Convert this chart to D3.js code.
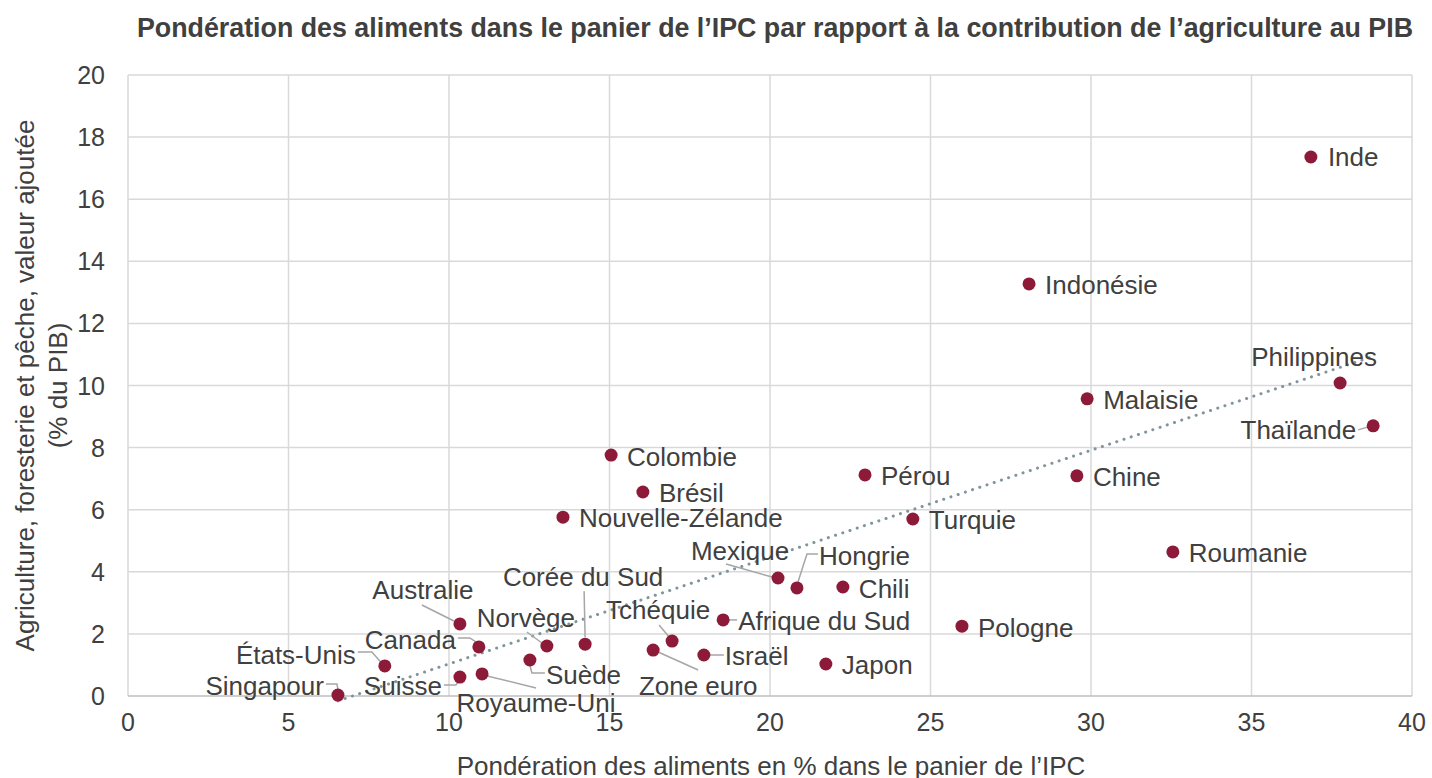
<!DOCTYPE html>
<html>
<head>
<meta charset="utf-8">
<script src="https://cdn.jsdelivr.net/npm/d3@7"></script>
<style>
  body { margin: 0; background: #fff; }
  svg text { font-family: "Liberation Sans", Arial, sans-serif; fill: #404040; }
</style>
</head>
<body>
<svg id="chart" width="1432" height="778"></svg>
<script>
// data
const countries = ["Inde", "Indonésie", "Philippines", "Thaïlande", "Malaisie", "Chine", "Roumanie",
  "Pérou", "Turquie", "Pologne", "Colombie", "Brésil", "Nouvelle-Zélande", "Mexique", "Hongrie",
  "Chili", "Afrique du Sud", "Japon", "Israël", "Tchéquie", "Zone euro", "Corée du Sud", "Norvège",
  "Suède", "Australie", "Canada", "États-Unis", "Suisse", "Royaume-Uni", "Singapour"];
const foodWeight = [36.85, 28.07, 37.76, 38.79, 29.88, 29.56, 32.55,
  22.96, 24.45, 25.98, 15.05, 16.04, 13.55, 20.25, 20.84,
  22.27, 18.54, 21.74, 17.94, 16.95, 16.36, 14.24, 13.05,
  12.52, 10.34, 10.93, 8.0, 10.34, 11.03, 6.54];
const agriShare = [17.36, 13.27, 10.08, 8.70, 9.57, 7.09, 4.64,
  7.12, 5.70, 2.25, 7.76, 6.57, 5.76, 3.80, 3.48,
  3.51, 2.45, 1.03, 1.32, 1.77, 1.48, 1.67, 1.61,
  1.16, 2.32, 1.58, 0.97, 0.61, 0.71, 0.03];
const xTicks = [0, 5, 10, 15, 20, 25, 30, 35, 40];
const yTicks = [0, 2, 4, 6, 8, 10, 12, 14, 16, 18, 20];

// label placement (pixels relative to the point): dx, dy, anchor, leader path
const labelLayout = {
  "Inde": [17, 0, "start"],
  "Indonésie": [16, 1, "start"],
  "Philippines": [-26, -26, "middle"],
  "Thaïlande": [-17, 4, "end", [[-15, 4], [-5, 1]]],
  "Malaisie": [16, 1, "start"],
  "Chine": [16, 1, "start"],
  "Roumanie": [16, 1, "start"],
  "Pérou": [16, 1, "start"],
  "Turquie": [16, 1, "start"],
  "Pologne": [16, 2, "start"],
  "Colombie": [16, 2, "start"],
  "Brésil": [16, 1, "start"],
  "Nouvelle-Zélande": [16, 1, "start"],
  "Mexique": [-38, -27, "middle", [[-52, -14], [-6, -1]]],
  "Hongrie": [22, -32, "start", [[21, -34], [10, -34], [1, -6]]],
  "Chili": [16, 2, "start"],
  "Afrique du Sud": [15, 1, "start", [[5, 0], [14, 0]]],
  "Japon": [16, 1, "start"],
  "Israël": [21, 1, "start", [[5, 0], [20, 0]]],
  "Tchéquie": [-14, -31, "middle", [[-13, -16], [-3, -4]]],
  "Zone euro": [45, 36, "middle", [[5, 2], [45, 20]]],
  "Corée du Sud": [-2, -67, "middle", [[-1, -53], [0, -7]]],
  "Norvège": [-21, -28, "middle", [[-20, -14], [-5, -3]]],
  "Suède": [16, 15, "start", [[0, 5], [2, 13], [15, 13]]],
  "Australie": [-37, -34, "middle", [[-38, -19], [-6, -3]]],
  "Canada": [-23, -7, "end", [[-21, -9], [-9, -9], [-3, -5]]],
  "États-Unis": [-29, -11, "end", [[-27, -14], [-13, -14], [-4, -4]]],
  "Suisse": [-18, 9, "end", [[-16, 8], [-4, 8], [-1, 4]]],
  "Royaume-Uni": [54, 29, "middle", [[5, 2], [54, 14]]],
  "Singapour": [-14, -9, "end", [[-12, -11], [-1, -11], [0, -6]]]
};

const svg = d3.select("#chart");
const margin = {left: 128, right: 20, top: 75, bottom: 82};
const width = 1432, height = 778;

const x = d3.scaleLinear().domain([0, 40]).range([margin.left, width - margin.right]);
const y = d3.scaleLinear().domain([0, 20]).range([height - margin.bottom, margin.top]);

const points = countries.map((name, i) => ({name: name, x: foodWeight[i], y: agriShare[i]}));

// title
svg.append("text")
  .attr("x", 775).attr("y", 37)
  .attr("text-anchor", "middle")
  .style("font-size", "26.8px").style("font-weight", "bold")
  .text("Pondération des aliments dans le panier de l’IPC par rapport à la contribution de l’agriculture au PIB");

// grid
svg.append("g").selectAll("line.gx").data(xTicks).enter().append("line")
  .attr("x1", (d) => x(d)).attr("x2", (d) => x(d))
  .attr("y1", y(0)).attr("y2", y(20))
  .attr("stroke", "#d9d9d9").attr("stroke-width", 1.5);
svg.append("g").selectAll("line.gy").data(yTicks).enter().append("line")
  .attr("x1", x(0)).attr("x2", x(40))
  .attr("y1", (d) => y(d)).attr("y2", (d) => y(d))
  .attr("stroke", (d) => d === 0 ? "#bfbfbf" : "#d9d9d9").attr("stroke-width", 1.5);

// tick labels
svg.append("g").selectAll("text").data(xTicks).enter().append("text")
  .attr("x", (d) => x(d)).attr("y", y(0) + 35)
  .attr("text-anchor", "middle")
  .style("font-size", "25px")
  .text((d) => d);
svg.append("g").selectAll("text").data(yTicks).enter().append("text")
  .attr("x", x(0) - 23).attr("y", (d) => y(d) + 9)
  .attr("text-anchor", "end")
  .style("font-size", "25px")
  .text((d) => d);

// axis titles
svg.append("text")
  .attr("x", 771).attr("y", 775)
  .attr("text-anchor", "middle")
  .style("font-size", "26px")
  .text("Pondération des aliments en % dans le panier de l’IPC");
const yTitle = svg.append("text")
  .attr("transform", "translate(34," + ((y(0) + y(20)) / 2) + ") rotate(-90)")
  .attr("text-anchor", "middle")
  .style("font-size", "26px");
yTitle.append("tspan").attr("x", 0).attr("dy", 0).text("Agriculture, foresterie et pêche, valeur ajoutée");
yTitle.append("tspan").attr("x", 0).attr("dy", 33).text("(% du PIB)");

// linear trend (least squares)
const mx = d3.mean(points, (d) => d.x), my = d3.mean(points, (d) => d.y);
const slope = d3.sum(points, (d) => (d.x - mx) * (d.y - my)) / d3.sum(points, (d) => (d.x - mx) * (d.x - mx));
const intercept = my - slope * mx;
const [xMin, xMax] = d3.extent(points, (d) => d.x);
svg.append("line")
  .attr("x1", x(xMin)).attr("y1", y(intercept + slope * xMin))
  .attr("x2", x(xMax)).attr("y2", y(intercept + slope * xMax))
  .attr("stroke", "#7f959b").attr("stroke-width", 3)
  .attr("stroke-linecap", "round")
  .attr("stroke-dasharray", "0.1 7.5");

// leaders
const line = d3.line();
svg.append("g").selectAll("path").data(points.filter((d) => labelLayout[d.name][3])).enter().append("path")
  .attr("d", (d) => line(labelLayout[d.name][3].map((p) => [x(d.x) + p[0], y(d.y) + p[1]])))
  .attr("fill", "none").attr("stroke", "#a6a6a6").attr("stroke-width", 1.5);

// points
svg.append("g").selectAll("circle").data(points).enter().append("circle")
  .attr("cx", (d) => x(d.x)).attr("cy", (d) => y(d.y))
  .attr("r", 6.5)
  .attr("fill", "#8c1a38");

// labels
svg.append("g").selectAll("text").data(points).enter().append("text")
  .attr("x", (d) => x(d.x) + labelLayout[d.name][0])
  .attr("y", (d) => y(d.y) + labelLayout[d.name][1])
  .attr("dy", "0.35em")
  .attr("text-anchor", (d) => labelLayout[d.name][2])
  .style("font-size", "26px")
  .text((d) => d.name);
</script>
</body>
</html>
